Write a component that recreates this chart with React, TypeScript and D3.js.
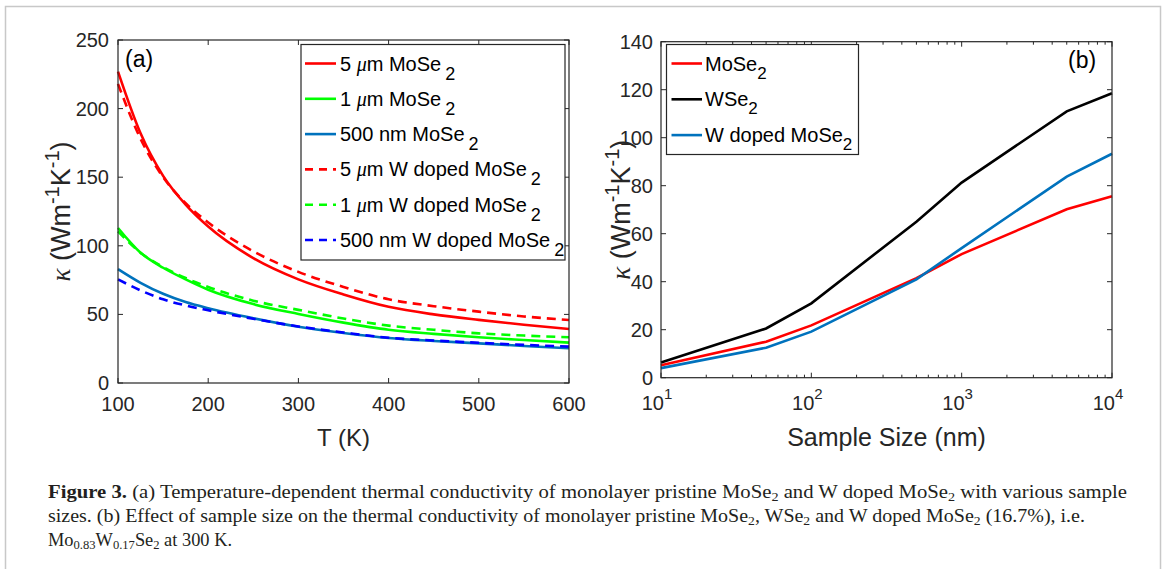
import React, { useRef, useEffect } from "react";
import * as d3 from "d3";

// panel (a): temperature sweep
const temps = [100, 125, 150, 175, 200, 250, 300, 350, 400, 450, 500, 550, 600];
const mose2_5um = [227, 182, 151, 130, 114, 91, 75.5, 64.5, 55.5, 50, 46, 42.5, 39.4];
const mose2_1um = [113, 95, 84, 75.5, 68, 57.5, 50.3, 44, 38.8, 35.8, 33.3, 31.3, 29.4];
const mose2_500nm = [83, 73, 65, 59, 54.5, 47.2, 41, 36.5, 32.8, 30.6, 28.9, 27, 25.3];
const wdoped_5um = [218, 178, 150, 131, 117, 96, 81, 70, 61, 56, 52, 48.5, 45.9];
const wdoped_1um = [110.5, 95, 84.5, 76.5, 70, 60, 53.3, 47, 41.8, 38.8, 36.2, 34.6, 33.3];
const wdoped_500nm = [75.5, 67.5, 61, 56.5, 53, 46.8, 41.2, 36.8, 33, 31, 29.3, 27.8, 26.5];

// panel (b): sample size sweep at 300 K
const sizes = [10, 50, 100, 500, 1000, 5000, 10000];
const sizeMoSe2 = [5.2, 15, 21.8, 41.5, 51.5, 70.2, 75.6];
const sizeWSe2 = [6.3, 20.5, 31, 65, 81.3, 111, 118.5];
const sizeWdoped = [4, 12.5, 19.2, 41, 54, 83.8, 93.3];

const ticksTempX = [100, 200, 300, 400, 500, 600];
const ticksTempY = [0, 50, 100, 150, 200, 250];
const ticksSizeX = [10, 100, 1000, 10000];
const ticksSizeY = [0, 20, 40, 60, 80, 100, 120, 140];

const seriesA = [
  { size: "5 ", unit: "m", name: " MoSe", values: mose2_5um, color: "#ff0000", dash: null },
  { size: "1 ", unit: "m", name: " MoSe", values: mose2_1um, color: "#00ff00", dash: null },
  { size: "500 nm", unit: null, name: " MoSe", values: mose2_500nm, color: "#0072bd", dash: null },
  { size: "5 ", unit: "m", name: " W doped MoSe", values: wdoped_5um, color: "#ff0000", dash: "9,6" },
  { size: "1 ", unit: "m", name: " W doped MoSe", values: wdoped_1um, color: "#00ff00", dash: "9,6" },
  { size: "500 nm", unit: null, name: " W doped MoSe", values: wdoped_500nm, color: "#0000ff", dash: "9,6" },
];

const seriesB = [
  { name: "MoSe", values: sizeMoSe2, color: "#ff0000" },
  { name: "WSe", values: sizeWSe2, color: "#000000" },
  { name: "W doped MoSe", values: sizeWdoped, color: "#0072bd" },
];

// caption lines: [text, isSubscript, isBold]
const captionLines = [
  {
    width: 1079,
    parts: [
      ["Figure 3.", false, true],
      ["  (a) Temperature-dependent thermal conductivity of monolayer pristine MoSe", false],
      ["2", true],
      [" and W doped MoSe", false],
      ["2", true],
      [" with various sample", false],
    ],
  },
  {
    width: 1037,
    parts: [
      ["sizes. (b) Effect of sample size on the thermal conductivity of monolayer pristine MoSe", false],
      ["2", true],
      [", WSe", false],
      ["2", true],
      [" and W doped MoSe", false],
      ["2", true],
      [" (16.7%), i.e.", false],
    ],
  },
  {
    width: 184,
    parts: [
      ["Mo", false],
      ["0.83", true],
      ["W", false],
      ["0.17", true],
      ["Se", false],
      ["2", true],
      [" at 300 K.", false],
    ],
  },
];

const SANS = "'Liberation Sans', Arial, Helvetica, sans-serif";
const SERIF = "'Liberation Serif', 'Times New Roman', serif";
const AX = "#262626";

function yLabel(g, x, y) {
  const t = g
    .append("text")
    .attr("transform", `translate(${x},${y}) rotate(-90)`)
    .attr("text-anchor", "middle")
    .attr("font-family", SANS)
    .attr("font-size", 27)
    .attr("fill", AX);
  t.append("tspan").attr("font-family", SERIF).attr("font-style", "italic").text("κ");
  t.append("tspan").text(" (Wm");
  t.append("tspan").attr("font-size", 20).attr("dy", -11).text("-1");
  t.append("tspan").attr("dy", 11).text("K");
  t.append("tspan").attr("font-size", 20).attr("dy", -11).text("-1");
  t.append("tspan").attr("dy", 11).text(")");
}

export default function App() {
  const svgRef = useRef(null);

  useEffect(() => {
    const svg = d3.select(svgRef.current);
    svg.selectAll("*").remove();

    svg
      .append("rect")
      .attr("x", 5.5)
      .attr("y", 6.5)
      .attr("width", 1155)
      .attr("height", 620)
      .attr("fill", "white")
      .attr("stroke", "#c8c8c8")
      .attr("stroke-width", 1.5);

    // ---------- panel (a) ----------
    const xa = d3.scaleLinear().domain([100, 600]).range([118, 569]);
    const ya = d3.scaleLinear().domain([0, 250]).range([383, 40]);
    const ga = svg.append("g");

    const lineA = d3
      .line()
      .x((d, i) => xa(temps[i]))
      .y((d) => ya(d))
      .curve(d3.curveMonotoneX);

    seriesA.forEach((s) => {
      ga.append("path")
        .datum(s.values)
        .attr("fill", "none")
        .attr("stroke", s.color)
        .attr("stroke-width", 2.6)
        .attr("stroke-dasharray", s.dash)
        .attr("d", lineA);
    });

    ga.append("rect")
      .attr("x", xa(100))
      .attr("y", ya(250))
      .attr("width", xa(600) - xa(100))
      .attr("height", ya(0) - ya(250))
      .attr("fill", "none")
      .attr("stroke", AX)
      .attr("stroke-width", 1.2);

    ticksTempX.forEach((v) => {
      const x = xa(v);
      ga.append("line").attr("x1", x).attr("x2", x).attr("y1", ya(0)).attr("y2", ya(0) - 5).attr("stroke", AX);
      ga.append("line").attr("x1", x).attr("x2", x).attr("y1", ya(250)).attr("y2", ya(250) + 5).attr("stroke", AX);
      ga.append("text")
        .attr("x", x)
        .attr("y", 411)
        .attr("text-anchor", "middle")
        .attr("font-family", SANS)
        .attr("font-size", 20)
        .attr("fill", AX)
        .text(v);
    });
    ticksTempY.forEach((v) => {
      const y = ya(v);
      ga.append("line").attr("x1", xa(100)).attr("x2", xa(100) + 5).attr("y1", y).attr("y2", y).attr("stroke", AX);
      ga.append("line").attr("x1", xa(600)).attr("x2", xa(600) - 5).attr("y1", y).attr("y2", y).attr("stroke", AX);
      ga.append("text")
        .attr("x", 109)
        .attr("y", y + 7)
        .attr("text-anchor", "end")
        .attr("font-family", SANS)
        .attr("font-size", 20)
        .attr("fill", AX)
        .text(v);
    });

    ga.append("text")
      .attr("x", (xa(100) + xa(600)) / 2)
      .attr("y", 446)
      .attr("text-anchor", "middle")
      .attr("font-family", SANS)
      .attr("font-size", 24)
      .attr("fill", AX)
      .text("T (K)");
    yLabel(ga, 70, (ya(0) + ya(250)) / 2);

    ga.append("text")
      .attr("x", 125)
      .attr("y", 67)
      .attr("font-family", SANS)
      .attr("font-size", 23)
      .attr("fill", "#000")
      .text("(a)");

    // legend (a)
    const la = ga.append("g");
    la.append("rect")
      .attr("x", 301)
      .attr("y", 44.5)
      .attr("width", 264)
      .attr("height", 215.5)
      .attr("fill", "white")
      .attr("stroke", AX)
      .attr("stroke-width", 1.2);
    seriesA.forEach((s, i) => {
      const y = 63.5 + i * 35.3;
      la.append("line")
        .attr("x1", 305)
        .attr("x2", 336)
        .attr("y1", y)
        .attr("y2", y)
        .attr("stroke", s.color)
        .attr("stroke-width", 2.6)
        .attr("stroke-dasharray", s.dash ? "8,6" : null);
      const t = la
        .append("text")
        .attr("x", 340)
        .attr("y", y + 7)
        .attr("font-family", SANS)
        .attr("font-size", 20)
        .attr("fill", "#000");
      t.append("tspan").text(s.size);
      if (s.unit) {
        t.append("tspan").attr("font-family", SERIF).attr("font-style", "italic").text("μ");
        t.append("tspan").text(s.unit);
      }
      t.append("tspan").text(s.name);
      t.append("tspan").attr("dx", 4).attr("dy", 9).attr("font-size", 18).text("2");
    });

    // ---------- panel (b) ----------
    const xb = d3.scaleLog().domain([10, 10000]).range([661, 1112]);
    const yb = d3.scaleLinear().domain([0, 140]).range([377.7, 41.7]);
    const gb = svg.append("g");

    const lineB = d3
      .line()
      .x((d, i) => xb(sizes[i]))
      .y((d) => yb(d));

    seriesB.forEach((s) => {
      gb.append("path")
        .datum(s.values)
        .attr("fill", "none")
        .attr("stroke", s.color)
        .attr("stroke-width", 2.6)
        .attr("d", lineB);
    });

    gb.append("rect")
      .attr("x", xb(10))
      .attr("y", yb(140))
      .attr("width", xb(10000) - xb(10))
      .attr("height", yb(0) - yb(140))
      .attr("fill", "none")
      .attr("stroke", AX)
      .attr("stroke-width", 1.2);

    const minor = xb.ticks().filter((v) => !ticksSizeX.includes(v));
    minor.forEach((v) => {
      const x = xb(v);
      gb.append("line").attr("x1", x).attr("x2", x).attr("y1", yb(0)).attr("y2", yb(0) - 3).attr("stroke", AX);
      gb.append("line").attr("x1", x).attr("x2", x).attr("y1", yb(140)).attr("y2", yb(140) + 3).attr("stroke", AX);
    });
    ticksSizeX.forEach((v) => {
      const x = xb(v);
      gb.append("line").attr("x1", x).attr("x2", x).attr("y1", yb(0)).attr("y2", yb(0) - 5).attr("stroke", AX);
      gb.append("line").attr("x1", x).attr("x2", x).attr("y1", yb(140)).attr("y2", yb(140) + 5).attr("stroke", AX);
      const t = gb
        .append("text")
        .attr("x", x - 4)
        .attr("y", 410)
        .attr("text-anchor", "middle")
        .attr("font-family", SANS)
        .attr("font-size", 20)
        .attr("fill", AX);
      t.append("tspan").text("10");
      t.append("tspan").attr("dy", -11).attr("font-size", 15).text(Math.round(Math.log10(v)));
    });
    ticksSizeY.forEach((v) => {
      const y = yb(v);
      gb.append("line").attr("x1", xb(10)).attr("x2", xb(10) + 5).attr("y1", y).attr("y2", y).attr("stroke", AX);
      gb.append("line").attr("x1", xb(10000)).attr("x2", xb(10000) - 5).attr("y1", y).attr("y2", y).attr("stroke", AX);
      gb.append("text")
        .attr("x", 653)
        .attr("y", y + 7)
        .attr("text-anchor", "end")
        .attr("font-family", SANS)
        .attr("font-size", 20)
        .attr("fill", AX)
        .text(v);
    });

    gb.append("text")
      .attr("x", (xb(10) + xb(10000)) / 2)
      .attr("y", 446)
      .attr("text-anchor", "middle")
      .attr("font-family", SANS)
      .attr("font-size", 25)
      .attr("fill", AX)
      .text("Sample Size (nm)");
    yLabel(gb, 630, (yb(0) + yb(140)) / 2);

    gb.append("text")
      .attr("x", 1068)
      .attr("y", 68)
      .attr("font-family", SANS)
      .attr("font-size", 23)
      .attr("fill", "#000")
      .text("(b)");

    // legend (b)
    const lb = gb.append("g");
    lb.append("rect")
      .attr("x", 666.5)
      .attr("y", 44.5)
      .attr("width", 192)
      .attr("height", 110)
      .attr("fill", "white")
      .attr("stroke", AX)
      .attr("stroke-width", 1.2);
    seriesB.forEach((s, i) => {
      const y = 63.5 + i * 35.8;
      lb.append("line")
        .attr("x1", 671.5)
        .attr("x2", 702)
        .attr("y1", y)
        .attr("y2", y)
        .attr("stroke", s.color)
        .attr("stroke-width", 2.6);
      const t = lb
        .append("text")
        .attr("x", 705)
        .attr("y", y + 7)
        .attr("font-family", SANS)
        .attr("font-size", 20)
        .attr("fill", "#000");
      t.append("tspan").text(s.name);
      t.append("tspan").attr("dy", 8).attr("font-size", 17).text("2");
    });

    // ---------- caption ----------
    const cap = svg.append("g").attr("font-family", SERIF).attr("font-size", 19).attr("fill", "#231f20");
    captionLines.forEach((line, li) => {
      const t = cap
        .append("text")
        .attr("x", 48)
        .attr("y", 498 + li * 24)
        .attr("textLength", line.width)
        .attr("lengthAdjust", "spacingAndGlyphs");
      let lowered = false;
      line.parts.forEach(([txt, isSub, isBold]) => {
        const sp = t.append("tspan").text(txt);
        if (isSub && !lowered) sp.attr("dy", 3);
        if (!isSub && lowered) sp.attr("dy", -3);
        if (isSub) sp.attr("font-size", 13);
        if (isBold) sp.attr("font-weight", "bold");
        lowered = !!isSub;
      });
    });
  }, []);

  return (
    <svg
      ref={svgRef}
      width={1168}
      height={569}
      style={{ position: "absolute", left: 0, top: 0, background: "white" }}
    ></svg>
  );
}
